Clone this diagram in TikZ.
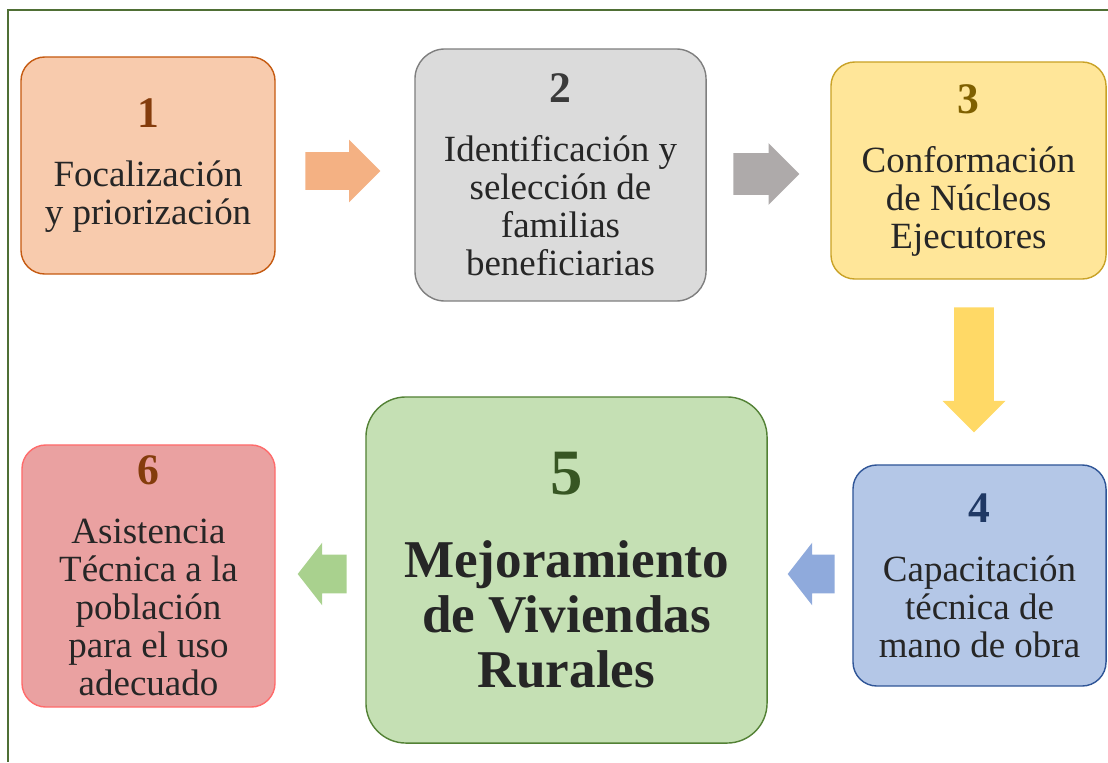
\documentclass[tikz,border=0pt]{standalone}
\usepackage{fontspec}
\setmainfont{Liberation Serif}
\usetikzlibrary{shapes.arrows}
\definecolor{frameg}{HTML}{4F6F35}
\definecolor{txtgray}{HTML}{262626}
\definecolor{fillA}{HTML}{F8CBAD}\definecolor{lineA}{HTML}{C55A11}\definecolor{numA}{HTML}{843C0C}
\definecolor{fillB}{HTML}{DBDBDB}\definecolor{lineB}{HTML}{7F7F7F}\definecolor{numB}{HTML}{3A3A3A}
\definecolor{fillC}{HTML}{FFE699}\definecolor{lineC}{HTML}{C9A227}\definecolor{numC}{HTML}{7F6000}
\definecolor{fillD}{HTML}{B4C7E7}\definecolor{lineD}{HTML}{2F5597}\definecolor{numD}{HTML}{1F3864}
\definecolor{fillE}{HTML}{C5E0B4}\definecolor{lineE}{HTML}{538135}\definecolor{numE}{HTML}{375623}
\definecolor{fillF}{HTML}{EAA1A1}\definecolor{lineF}{HTML}{FF6B6B}
\definecolor{arrA}{HTML}{F4B183}\definecolor{arrB}{HTML}{AEAAAA}\definecolor{arrC}{HTML}{FFD966}
\definecolor{arrD}{HTML}{8FAADC}\definecolor{arrE}{HTML}{A9D18E}
\newcommand{\boxnum}[2]{{\fontsize{31}{27}\selectfont\bfseries\color{#1}#2}}
\begin{document}
\begin{tikzpicture}
  [x=0.025cm,y=-0.025cm,
   stepbox/.style={rectangle,rounded corners=0.6cm,line width=1pt,align=center,
     text=txtgray,inner sep=0pt,font=\fontsize{26.3}{27}\selectfont},
   flow/.style={single arrow,draw=none,anchor=tail,inner xsep=0pt,inner ysep=0.47cm,
     single arrow head extend=0.31cm}]
\useasboundingbox (0,0) rectangle (1108,762); % page size
\draw [frameg, line width=1.4pt] (1108,10) -- (8,10) -- (8,762);
%
\node at (148,165.5) (foc) [stepbox, fill=fillA, draw=lineA,
  minimum width=6.35cm, minimum height=5.425cm]
  {\boxnum{numA}{1}\\[15pt] Focalización\\y priorización};
\node at (560.5,175) (ide) [stepbox, fill=fillB, draw=lineB, rounded corners=0.75cm,
  minimum width=7.275cm, minimum height=6.3cm]
  {\boxnum{numB}{2}\\[15pt] Identificación y\\selección de\\familias\\beneficiarias};
\node at (968.5,170.5) (con) [stepbox, fill=fillC, draw=lineC,
  minimum width=6.875cm, minimum height=5.425cm]
  {\boxnum{numC}{3}\\[15pt] Conformación\\de Núcleos\\Ejecutores};
\node at (979.5,575.5) (cap) [stepbox, fill=fillD, draw=lineD,
  minimum width=6.325cm, minimum height=5.525cm]
  {\boxnum{numD}{4}\\[15pt] Capacitación\\técnica de\\mano de obra};
\node at (566.5,570) (mej) [stepbox, fill=fillE, draw=lineE, rounded corners=1cm,
  minimum width=10.025cm, minimum height=8.65cm,
  font=\fontsize{37.8}{39}\selectfont\bfseries]
  {{\fontsize{46}{39}\selectfont\color{numE}5}\\[19.8pt] Mejoramiento\\de Viviendas\\Rurales};
\node at (148.5,576) (asi) [stepbox, fill=fillF, draw=lineF,
  minimum width=6.325cm, minimum height=6.55cm]
  {\boxnum{numA}{6}\\[15pt] Asistencia\\Técnica a la\\población\\para el uso\\adecuado};
%
\node at (305,171) (a12) [flow, fill=arrA, minimum height=1.875cm,
  inner ysep=0.4625cm, single arrow head extend=0.3125cm] {};
\node at (733,174) (a23) [flow, fill=arrB, minimum height=1.65cm,
  inner ysep=0.5125cm, single arrow head extend=0.25cm] {};
\node at (974,307) (a34) [flow, fill=arrC, minimum height=3.125cm,
  inner ysep=0.4875cm, single arrow head extend=0.29cm, rotate=-90] {};
\node at (835,574) (a45) [flow, fill=arrD, minimum height=1.175cm,
  inner ysep=0.475cm, single arrow head extend=0.3cm,
  single arrow tip angle=104, rotate=180] {};
\node at (347,574) (a56) [flow, fill=arrE, minimum height=1.225cm,
  inner ysep=0.475cm, single arrow head extend=0.3cm,
  single arrow tip angle=104, rotate=180] {};
\end{tikzpicture}
\end{document}
